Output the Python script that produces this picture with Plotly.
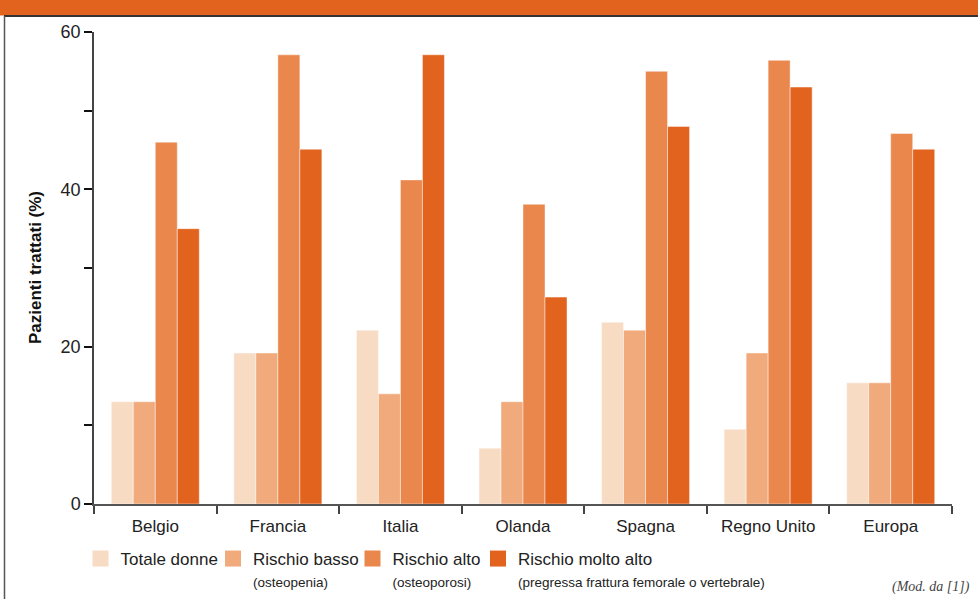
import plotly.graph_objects as go

countries = ["Belgio", "Francia", "Italia", "Olanda", "Spagna", "Regno Unito", "Europa"]
totale_donne = [13, 19.2, 22.1, 7.1, 23.1, 9.5, 15.4]
rischio_basso = [13, 19.2, 14, 13, 22.1, 19.2, 15.4]
rischio_alto = [46, 57.1, 41.2, 38.1, 55, 56.4, 47.1]
rischio_molto_alto = [35, 45.1, 57.1, 26.3, 48, 53, 45.1]

series_names = ["Totale donne", "Rischio basso", "Rischio alto", "Rischio molto alto"]
series_sub = ["", "(osteopenia)", "(osteoporosi)", "(pregressa frattura femorale o vertebrale)"]
series_values = [totale_donne, rischio_basso, rischio_alto, rischio_molto_alto]
colors = ["#F8DBC3", "#F0AA7C", "#EA874D", "#E2631E"]

FONT = "Liberation Sans, Arial, Helvetica, sans-serif"
W, H = 978, 599
ML, MR, MT, MB = 94, 26, 32, 95
PW, PH = W - ML - MR, H - MT - MB

def px_to_paper_x(px):
    return (px - ML) / PW

def px_to_paper_y(py):
    return (H - MB - py) / PH

fig = go.Figure()
legend_ids = ["legend", "legend2", "legend3", "legend4"]
for name, sub, vals, col, lid in zip(series_names, series_sub, series_values, colors, legend_ids):
    fig.add_trace(go.Bar(
        x=countries, y=vals, name=name, marker_color=col,
        marker_line=dict(color="rgba(255,255,255,0.45)", width=1),
        showlegend=False, hoverinfo="x+y",
    ))
    label = name if not sub else f"{name}<br><span style='font-size:13.5px'>{sub}</span>"
    fig.add_trace(go.Scatter(
        x=[None], y=[None], mode="markers", name=label,
        marker=dict(symbol="square", size=17, color=col, line=dict(width=0)),
        legend=lid, showlegend=True,
    ))

legend_swatch_x = [100.5, 233, 372.5, 498]
legend_top_y = 541
layout_legends = {}
for lid, sx in zip(legend_ids, legend_swatch_x):
    layout_legends[lid] = dict(
        x=(sx - 20) / W, y=1 - legend_top_y / H, xref="container", yref="container",
        xanchor="left", yanchor="top", orientation="v", valign="top",
        bgcolor="rgba(0,0,0,0)", borderwidth=0,
        font=dict(family=FONT, size=17, color="#222"),
        tracegroupgap=0,
    )

shapes = [
    # top orange band
    dict(type="rect", xref="paper", yref="paper",
         x0=px_to_paper_x(-2), x1=px_to_paper_x(W + 2),
         y0=px_to_paper_y(15.5), y1=px_to_paper_y(-5),
         fillcolor="#E2631E", line=dict(width=0), layer="above"),
    # dark rule under band
    dict(type="line", xref="paper", yref="paper",
         x0=px_to_paper_x(4), x1=px_to_paper_x(W + 2),
         y0=px_to_paper_y(16), y1=px_to_paper_y(16),
         line=dict(color="#333333", width=2)),
    # left frame line
    dict(type="line", xref="paper", yref="paper",
         x0=px_to_paper_x(4.5), x1=px_to_paper_x(4.5),
         y0=px_to_paper_y(16), y1=px_to_paper_y(H + 2),
         line=dict(color="#555555", width=1.5)),
]

fig.update_layout(
    width=W, height=H,
    margin=dict(l=ML, r=MR, t=MT, b=MB, autoexpand=False),
    paper_bgcolor="white", plot_bgcolor="white",
    barmode="group", bargap=0.282, bargroupgap=0,
    font=dict(family=FONT, size=17, color="#222"),
    shapes=shapes,
    annotations=[
        dict(
            text="<i>(Mod. da [1])</i>", xref="paper", yref="paper",
            x=px_to_paper_x(972), y=px_to_paper_y(587),
            xanchor="right", yanchor="middle", showarrow=False,
            font=dict(family="Liberation Serif, DejaVu Serif, serif", size=14, color="#444"),
        ),
        dict(
            text="<b>Pazienti trattati (%)</b>", xref="paper", yref="paper",
            x=px_to_paper_x(35), y=0.5, xanchor="center", yanchor="middle",
            textangle=-90, showarrow=False,
            font=dict(family=FONT, size=17, color="#111"),
        ),
    ],
    **layout_legends,
)

fig.update_xaxes(
    type="category", range=[-0.5, 6.5],
    showline=True, linecolor="#555555", linewidth=1.5,
    ticks="outside", tickson="boundaries", ticklen=8, tickwidth=1.5, tickcolor="#444",
    ticklabelstandoff=6,
    tickfont=dict(family=FONT, size=17, color="#222"),
    showgrid=False, zeroline=False,
)
fig.update_yaxes(
    range=[0, 60],
    tickvals=[0, 10, 20, 30, 40, 50, 60],
    ticktext=["0", "", "20", "", "40", "", "60"],
    showline=True, linecolor="#444", linewidth=1.5,
    ticks="outside", ticklen=8, tickwidth=2, tickcolor="#111",
    tickfont=dict(family=FONT, size=18, color="#222"),
    showgrid=False, zeroline=False,
)

fig.write_html("out.html")
